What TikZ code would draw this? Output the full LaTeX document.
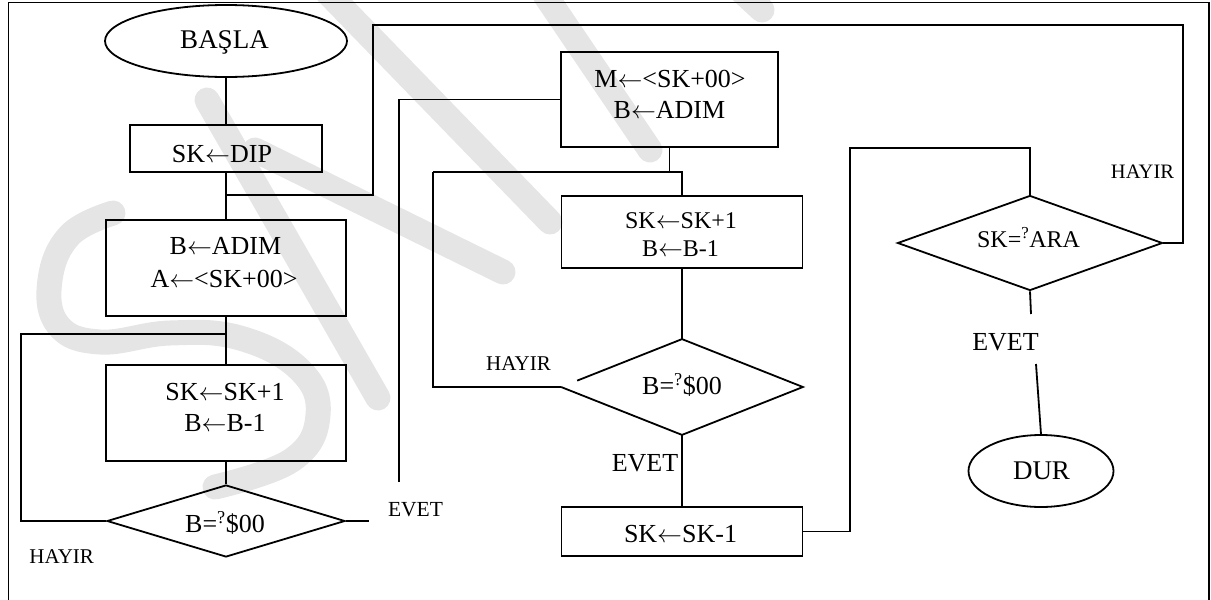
\documentclass[tikz,border=0pt]{standalone}
\usepackage{fontspec}
\setmainfont{Liberation Serif}
\usetikzlibrary{shapes.geometric,calc}
\newcommand{\fsz}[1]{\fontsize{#1}{#1}\selectfont}
\newcommand{\larr}{\ensuremath{\leftarrow}}
\begin{document}
\begin{tikzpicture}[x=1pt,y=-1pt,line width=1.8pt,line join=miter,
  boxnode/.style={draw,rectangle,inner sep=0pt},
  termnode/.style={draw,ellipse,inner sep=0pt},
  decnode/.style={draw,diamond,inner sep=0pt},
  txt/.style={inner sep=0pt,anchor=base},
  wm/.style={draw=gray!20,line width=25pt,line cap=round,line join=round}]
\useasboundingbox (0,0) rectangle (1211,600);
% watermark
\draw[wm] plot[smooth,tension=0.7] coordinates {(113,213) (70,235) (50,280) (58,325) (100,342) (170,333) (240,338) (300,370) (318,415) (292,460) (215,487)};
\draw[wm] (207,100) -- (378,398);
\draw[wm] (325,-10) -- (550,222);
\draw[wm] (255,150) -- (503,272);
\draw[wm] (545,-5) -- (650,150);
\draw[wm] (735,-15) -- (762,10);
% frame
\draw[line width=1.3pt] (8.5,600) -- (8.5,2.5) -- (1209,2.5) -- (1209,600);
% left column
\node[termnode,minimum width=242pt,minimum height=72pt] (basla) at (226,41) {};
\node[txt,font=\fsz{27}] (tbasla) at (224.5,48.3) {BAŞLA};
\node[boxnode,minimum width=192pt,minimum height=47pt] (dip) at (226,148.5) {};
\node[txt,font=\fsz{26}] (tdip) at (222,162) {SK\larr DIP};
\node[boxnode,minimum width=240pt,minimum height=96pt] (adim1) at (226,268) {};
\node[txt,font=\fsz{26}] (tadimA) at (225.5,254) {B\larr ADIM};
\node[txt,font=\fsz{26}] (tadimB) at (224,287) {A\larr <SK+00>};
\node[boxnode,minimum width=240pt,minimum height=96pt] (inc1) at (226,413) {};
\node[txt,font=\fsz{26}] (tinc1A) at (225,400) {SK\larr SK+1};
\node[txt,font=\fsz{26}] (tinc1B) at (225,431) {B\larr B-1};
\node[decnode,minimum width=238pt,minimum height=72pt] (dec1) at (226,521) {};
\node[txt,font=\fsz{26}] (tdec1) at (225,532.7) {B=\textsuperscript{?}\$00};
% middle column
\node[boxnode,minimum width=217pt,minimum height=95pt] (m1) at (669.5,99.5) {};
\node[txt,font=\fsz{26}] (tm1A) at (670,87) {M\larr <SK+00>};
\node[txt,font=\fsz{26}] (tm1B) at (669.5,118.3) {B\larr ADIM};
\node[boxnode,minimum width=241pt,minimum height=72pt] (inc2) at (682,232) {};
\node[txt,font=\fsz{24}] (tinc2A) at (681,228.3) {SK\larr SK+1};
\node[txt,font=\fsz{24}] (tinc2B) at (680.5,256) {B\larr B-1};
\node[decnode,draw=none,minimum width=240pt,minimum height=94pt] (dec2) at (682,387) {};
\draw ($(dec2.west)!0.133!(dec2.north)$) -- (dec2.north) -- (dec2.east) -- (dec2.south) -- (dec2.west);
\node[txt,font=\fsz{26}] (tdec2) at (682,394.3) {B=\textsuperscript{?}\$00};
\node[boxnode,minimum width=241pt,minimum height=49pt] (skm1) at (682,531.5) {};
\node[txt,font=\fsz{26}] (tskm1) at (680.5,542.7) {SK\larr SK-1};
% right column
\node[decnode,minimum width=265pt,minimum height=95pt] (ara) at (1030,243) {};
\node[txt,font=\fsz{24}] (tara) at (1028.5,247.3) {SK=\textsuperscript{?}ARA};
\node[termnode,minimum width=145pt,minimum height=72pt] (dur) at (1041,471) {};
\node[txt,font=\fsz{27}] (tdur) at (1041.5,479) {DUR};
% labels
\node[txt,font=\fsz{21}] (lh1) at (61.7,563.3) {HAYIR};
\node[txt,font=\fsz{21.5}] (le1) at (415.5,516.7) {EVET};
\node[txt,font=\fsz{21}] (lh2) at (518.5,370.7) {HAYIR};
\node[txt,font=\fsz{26}] (le2) at (645,471) {EVET};
\node[txt,font=\fsz{20.5}] (lh3) at (1142.5,178.3) {HAYIR};
\node[txt,font=\fsz{26}] (le3) at (1005.5,350.7) {EVET};
% coordinates
\coordinate (j1) at (226,195);
\coordinate (c1) at (373,195);
\coordinate (c2) at (373,25);
\coordinate (c3) at (1183,25);
\coordinate (j2) at (226,334);
\coordinate (c4) at (21,334);
\coordinate (e1) at (369,521);
\coordinate (e2) at (399,482);
\coordinate (j3) at (669.5,172);
\coordinate (c5) at (433,172);
\coordinate (c6) at (682,172);
\coordinate (c7) at (850,148);
\coordinate (e3) at (1031,314);
\coordinate (e4) at (1036,364);
% connectors
\draw (basla.south) -- (dip.north);
\draw (dip.south) -- (adim1.north);
\draw (j1) -- (c1) -- (c2) -- (c3) |- (ara.east);
\draw (adim1.south) -- (inc1.north);
\draw (j2) -- (c4) |- (dec1.west);
\draw (inc1.south) -- (dec1.north);
\draw (dec1.east) -- (e1);
\draw (e2) |- (m1.west);
\draw (m1.south) -- (j3);
\draw (c5) -- (c6) -- (inc2.north);
\draw (dec2.west) -| (c5);
\draw (inc2.south) -- (dec2.north);
\draw (dec2.south) -- (skm1.north);
\draw (skm1.east) -| (c7) -| (ara.north);
\draw (ara.south) -- (e3);
\draw (e4) -- (dur.north);
\end{tikzpicture}
\end{document}
